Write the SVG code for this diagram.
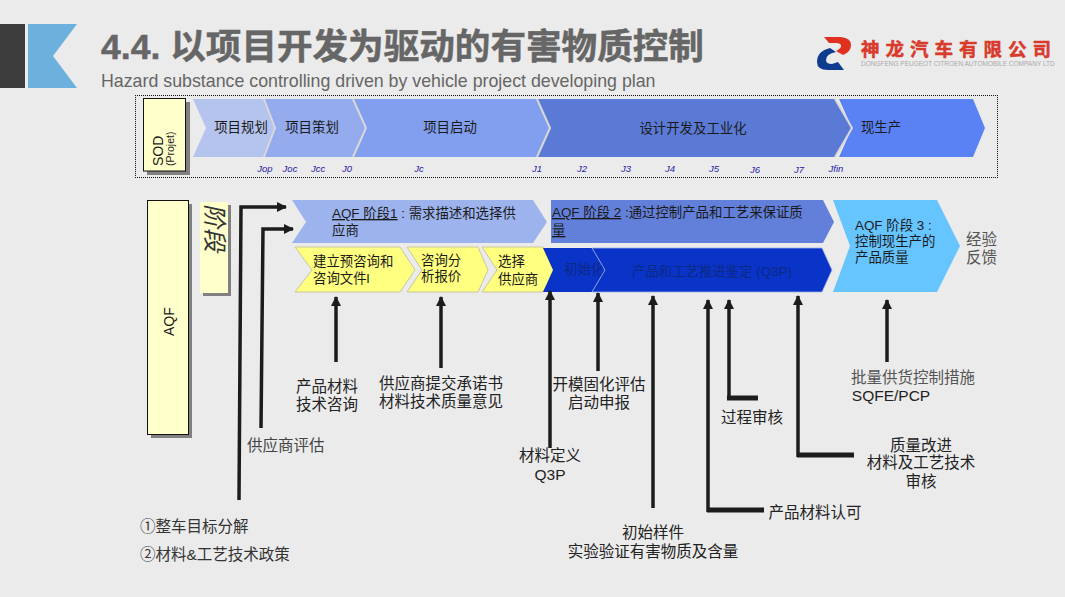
<svg xmlns="http://www.w3.org/2000/svg" width="1065" height="597" viewBox="0 0 1065 597">
<style>
text{font-family:"Liberation Sans","Noto Sans CJK SC",sans-serif;fill:#1a1a1a}
.c{text-anchor:middle}
.j{font-size:9.500px;font-style:italic;fill:#1f1aa5;text-anchor:middle}
.t{font-size:13.400px}
.b{font-size:15.500px;fill:#333}
.l{font-size:15.500px;fill:#222;text-anchor:middle}
.w{fill:none;stroke:#1c1c1c;stroke-width:3.500}
.k{fill:none;stroke:#1c1c1c;stroke-width:5}
.sh{fill:#808080}
.pl{fill:#FFFFCC;stroke:#111;stroke-width:1}
</style>
<defs>
<marker id="a" markerUnits="userSpaceOnUse" markerWidth="12" markerHeight="12" refX="9" refY="5" orient="auto"><path d="M0,0L10,5L0,10Z" fill="#1c1c1c"/></marker>
</defs>
<rect width="1065" height="597" fill="#EBEBEB"/>
<g id="header">
<rect x="0" y="24" width="25" height="64" fill="#3C3C3C"/>
<path d="M28,24H77L53,56L77,88H28Z" fill="#6CB0DD"/>
<text x="101" y="59" font-size="35.600" font-weight="700" style="fill:#666;stroke:#666;stroke-width:.5">4.4. 以项目开发为驱动的有害物质控制</text>
<text x="101" y="87" font-size="17.800" style="fill:#666">Hazard substance controlling driven by vehicle project developing plan</text>
</g>
<g id="logo">
<path d="M824,37H841Q851,38 851,45Q851,52 843,55L836,51Q842,48 841,45Q840,43 836,43H829Z" fill="#E03020"/>
<path d="M817,62Q817,51 830,48L836,52Q826,54 826,60Q826,64 832,64L838,62L844,70H828Q817,70 817,62Z" fill="#103C90"/>
<text x="861" y="56" font-size="18.500" font-weight="700" letter-spacing="6" style="fill:#D83A2C;stroke:#D83A2C;stroke-width:.5">神龙汽车有限公司</text>
<text x="861" y="66" font-size="6.500" style="fill:#aaa">DONGFENG PEUGEOT CITROEN AUTOMOBILE COMPANY LTD</text>
</g>
<g id="sod-row">
<path d="M135,95.500H998M135,177.500H998M135.500,95V178M997.500,95V178" fill="none" stroke="#111" stroke-dasharray="1 1"/>
<g id="sod"><rect class="sh" x="147" y="102" width="43" height="73"/><rect class="pl" x="143.500" y="98.500" width="42" height="72.500"/>
<text transform="translate(163,166) rotate(-90)" font-size="14">SOD</text><text transform="translate(174,166) rotate(-90)" font-size="10.500">(Projet)</text></g>
<g id="p1"><path d="M193,99H264L275,128L264,157H193L206,128Z" fill="#B5C4EE"/><text class="t c" x="241" y="132">项目规划</text></g>
<g id="p2"><path d="M264,99H353L366,128L353,157H264L275,128Z" fill="#94ABEE"/><text class="t c" x="312" y="132">项目策划</text></g>
<g id="p3"><path d="M353,99H537L550,128L537,157H353L366,128Z" fill="#819FEE"/><text class="t c" x="450" y="132">项目启动</text></g>
<g id="p4"><path d="M537,99H835L852,128L835,157H537L550,128Z" fill="#5A7AD6"/><text class="t c" x="693" y="133">设计开发及工业化</text></g>
<g id="p5"><path d="M839,99H973L985,128L973,157H839L852,128Z" fill="#5A82F5"/><text class="t c" x="881" y="132">现生产</text></g>
<path d="M264,99L275,128L264,157M353,99L366,128L353,157M537,99L550,128L537,157M835,99L852,128L835,157" fill="none" stroke="#D8D8D8" stroke-width="2"/>
<text class="j" x="265" y="172">Jop</text><text class="j" x="290" y="172">Joc</text><text class="j" x="318" y="172">Jcc</text><text class="j" x="347" y="172">J0</text><text class="j" x="419" y="172">Jc</text><text class="j" x="537" y="172">J1</text><text class="j" x="582" y="172">J2</text><text class="j" x="626" y="172">J3</text><text class="j" x="670" y="172">J4</text><text class="j" x="714" y="172">J5</text><text class="j" x="755" y="173">J6</text><text class="j" x="799" y="173">J7</text><text class="j" x="836" y="172">Jfin</text>
</g>
<g id="aqf"><rect class="sh" x="151" y="204" width="41" height="234"/><rect class="pl" x="147.500" y="200.500" width="41" height="234"/><text transform="translate(174,336) rotate(-90)" font-size="14">AQF</text></g>
<g id="jieduan"><rect class="sh" x="203" y="205" width="28" height="91"/><rect x="200" y="202" width="28" height="91" fill="#FFFFCC"/><text transform="translate(206,204) rotate(90) skewX(-12)" font-size="24" style="fill:#333">阶段</text></g>
<g id="s1"><path d="M292,200H533L547,222L533,243H292L306,222Z" fill="#9DB3EE"/><text x="332" y="218" class="t"><tspan text-decoration="underline">AQF 阶段1</tspan> : 需求描述和选择供</text><text x="332" y="235" class="t">应商</text></g>
<g id="s2"><path d="M551,200H823L834,222L823,243H551Z" fill="#627FD9"/><text x="552" y="217" class="t"><tspan text-decoration="underline">AQF 阶段 2</tspan> :通过控制产品和工艺来保证质</text><text x="552" y="235" class="t" text-decoration="underline">量</text></g>
<g id="s3"><path d="M833,200H937L960,246L937,292H833L850,246Z" fill="#66C4FF"/><text x="855" y="230" class="t">AQF 阶段 3 :</text><text x="855" y="246" class="t">控制现生产的</text><text x="855" y="262" class="t">产品质量</text></g>
<g id="y1"><path d="M295,247H400L415,270L400,292H295L312,270Z" fill="#FFFF80" stroke="#C8C8A0"/><text x="313" y="266" class="t">建立预咨询和</text><text x="313" y="283" class="t">咨询文件l</text></g>
<g id="y2"><path d="M407,247H478L488,270L478,292H407L422,270Z" fill="#FFFF80" stroke="#C8C8A0"/><text x="421" y="265" class="t">咨询分</text><text x="421" y="281" class="t">析报价</text></g>
<g id="y3"><path d="M482,247H543L557,270L543,292H482L497,270Z" fill="#FFFF80" stroke="#C8C8A0"/><text x="498" y="266" class="t">选择</text><text x="498" y="284" class="t">供应商</text></g>
<g id="b1"><path d="M543,248H592L605,270L592,292H543L553,270Z" fill="#0A33C8"/><text x="564" y="274" class="t" style="fill:#0b2a86">初始化</text></g>
<g id="b2"><path d="M592,248H822L832,270L822,292H592L605,270Z" fill="#0A33C8" stroke="#9FB0E8" stroke-width="0.800"/><text x="712" y="276" class="t c" style="fill:#0b2a86">产品和工艺推进鉴定 (Q3P)</text></g>
<text x="966" y="245" font-size="15.500" style="fill:#555">经验</text><text x="966" y="263" font-size="15.500" style="fill:#555">反馈</text>
<g id="connectors">
<path class="w" marker-end="url(#a)" d="M239,500L241,207H286"/>
<path class="w" marker-end="url(#a)" d="M261,428L263,229H293"/>
<path class="w" marker-end="url(#a)" d="M336,362V297"/>
<path class="w" marker-end="url(#a)" d="M441,368V297"/>
<path class="w" marker-end="url(#a)" d="M550,448V291"/>
<path class="w" marker-end="url(#a)" d="M598,371V293"/>
<path class="w" marker-end="url(#a)" d="M653,508V296"/>
<path class="k" d="M764,510H707"/><path class="w" marker-end="url(#a)" d="M708,512V300"/>
<path class="k" d="M758,398H727"/><path class="w" marker-end="url(#a)" d="M729,400V300"/>
<path class="k" d="M854,455H797"/><path class="w" marker-end="url(#a)" d="M798,457V296"/>
<path class="w" marker-end="url(#a)" d="M887,362V300"/>
</g>
<g id="labels">
<text class="l" x="327" y="392">产品材料</text><text class="l" x="327" y="410">技术咨询</text>
<text class="l" x="441" y="389">供应商提交承诺书</text><text class="l" x="441" y="407">材料技术质量意见</text>
<text class="b" x="247" y="451" style="fill:#444">供应商评估</text>
<text class="l" x="599" y="390">开模固化评估</text><text class="l" x="599" y="408">启动申报</text>
<text class="l" x="550" y="461">材料定义</text><text class="l" x="550" y="480">Q3P</text>
<text class="l" x="752" y="423">过程审核</text>
<text class="l" x="921" y="451">质量改进</text><text class="l" x="921" y="468">材料及工艺技术</text><text class="l" x="921" y="487">审核</text>
<text class="l" x="913" y="383" style="fill:#555">批量供货控制措施</text><text class="l" x="891" y="401">SQFE/PCP</text>
<text class="l" x="815" y="518">产品材料认可</text>
<text class="l" x="653" y="538">初始样件</text><text class="l" x="653" y="557">实验验证有害物质及含量</text>
<text class="b" x="140" y="532">①整车目标分解</text><text class="b" x="140" y="560">②材料&amp;工艺技术政策</text>
</g>
</svg>
